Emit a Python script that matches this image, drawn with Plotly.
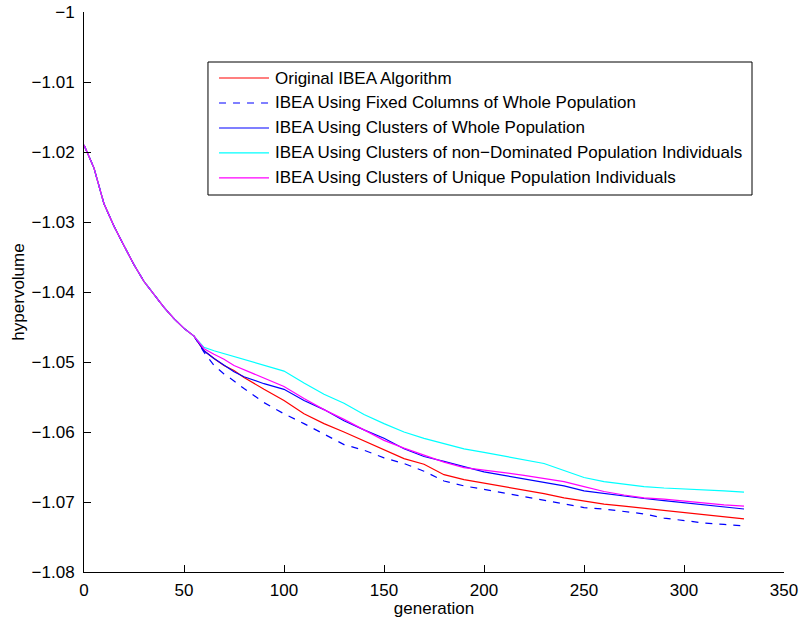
import plotly.graph_objects as go

# Generations at which the hypervolume was sampled
gen_common = [0, 5, 10, 15, 20, 25, 30, 35, 40, 45, 50, 55]
gen_tail = [60, 65, 70, 75, 80, 90, 100, 110, 120, 130, 140, 150, 160, 170, 180,
            190, 200, 210, 220, 230, 240, 250, 260, 270, 280, 290, 300, 310, 320, 330]

# All variants share the same early trajectory
hv_common = [-1.0190, -1.0223, -1.0274, -1.0306, -1.0334, -1.0361, -1.0385,
             -1.0404, -1.0422, -1.0438, -1.0452, -1.0463]

hv_original = [-1.0484, -1.0495, -1.0505, -1.0512, -1.0522, -1.0539, -1.0555, -1.0574,
               -1.0588, -1.0600, -1.0613, -1.0625, -1.0638, -1.0646, -1.0661, -1.0668,
               -1.0673, -1.0677, -1.0683, -1.0688, -1.0694, -1.0699, -1.0703, -1.0706,
               -1.0709, -1.0712, -1.0714, -1.0717, -1.0721, -1.0724]
hv_fixed_cols = [-1.0486, -1.0505, -1.0517, -1.0527, -1.0538, -1.0558, -1.0574, -1.0588,
                 -1.0603, -1.0618, -1.0626, -1.0637, -1.0645, -1.0656, -1.0670, -1.0677,
                 -1.0682, -1.0687, -1.0692, -1.0697, -1.0703, -1.0708, -1.0710, -1.0713,
                 -1.0717, -1.0723, -1.0727, -1.0730, -1.0732, -1.0734]
hv_clusters_whole = [-1.0484, -1.0495, -1.0504, -1.0514, -1.0521, -1.0531, -1.0539, -1.0555,
                     -1.0568, -1.0584, -1.0597, -1.0609, -1.0624, -1.0635, -1.0642, -1.0650,
                     -1.0657, -1.0662, -1.0667, -1.0672, -1.0677, -1.0684, -1.0688, -1.0692,
                     -1.0695, -1.0698, -1.0701, -1.0704, -1.0707, -1.0710]
hv_clusters_nondom = [-1.0479, -1.0484, -1.0488, -1.0493, -1.0497, -1.0505, -1.0513, -1.0530,
                      -1.0546, -1.0559, -1.0575, -1.0588, -1.0600, -1.0609, -1.0617, -1.0624,
                      -1.0629, -1.0634, -1.0640, -1.0645, -1.0655, -1.0665, -1.0671, -1.0675,
                      -1.0678, -1.0680, -1.0681, -1.0682, -1.0684, -1.0686]
hv_clusters_unique = [-1.0481, -1.0489, -1.0496, -1.0505, -1.0511, -1.0523, -1.0535, -1.0552,
                      -1.0568, -1.0582, -1.0597, -1.0612, -1.0623, -1.0633, -1.0643, -1.0651,
                      -1.0654, -1.0658, -1.0662, -1.0666, -1.0671, -1.0678, -1.0685, -1.0690,
                      -1.0694, -1.0696, -1.0699, -1.0701, -1.0704, -1.0706]

series_names = [
    "Original IBEA Algorithm",
    "IBEA Using Fixed Columns of Whole Population",
    "IBEA Using Clusters of Whole Population",
    "IBEA Using Clusters of non\u2212Dominated Population Individuals",
    "IBEA Using Clusters of Unique Population Individuals",
]
series_values = [hv_original, hv_fixed_cols, hv_clusters_whole,
                 hv_clusters_nondom, hv_clusters_unique]
series_colors = ["#ff0000", "#0000ff", "#0000ff", "#00ffff", "#ff00ff"]
series_dash = ["solid", "7px,7px", "solid", "solid", "solid"]

x_ticks = [0, 50, 100, 150, 200, 250, 300, 350]
y_ticks = [-1.08, -1.07, -1.06, -1.05, -1.04, -1.03, -1.02, -1.01, -1.0]
y_tick_labels = ["\u22121.08", "\u22121.07", "\u22121.06", "\u22121.05", "\u22121.04",
                 "\u22121.03", "\u22121.02", "\u22121.01", "\u22121"]

FONT = "Liberation Sans, Arial, Helvetica, sans-serif"
FS = 17

fig = go.Figure()
for name, vals, col, dash in zip(series_names, series_values, series_colors, series_dash):
    fig.add_trace(go.Scatter(
        x=gen_common + gen_tail,
        y=hv_common + vals,
        mode="lines",
        name=name,
        line=dict(color=col, width=1.2, dash=dash),
        showlegend=False,
    ))

# Boxed legend in the upper right of the axes
box_x0, box_x1 = 0.1771, 0.9543
box_y0, box_y1 = 0.6732, 0.9107
row_top, row_step = 0.8821, 0.0446
sample_x0, sample_x1, text_x = 0.1929, 0.2643, 0.2700

shapes = [dict(type="rect", xref="paper", yref="paper",
               x0=box_x0, x1=box_x1, y0=box_y0, y1=box_y1,
               line=dict(color="black", width=1), fillcolor="white", layer="above")]
annotations = []
for i, (name, col, dash) in enumerate(zip(series_names, series_colors, series_dash)):
    yy = row_top - i * row_step
    shapes.append(dict(type="line", xref="paper", yref="paper",
                       x0=sample_x0, x1=sample_x1, y0=yy, y1=yy,
                       line=dict(color=col, width=1.2, dash=dash), layer="above"))
    annotations.append(dict(xref="paper", yref="paper", x=text_x, y=yy,
                            text=name, showarrow=False, xanchor="left", yanchor="middle",
                            font=dict(family=FONT, size=FS, color="black")))

fig.update_layout(
    width=808, height=618,
    margin=dict(l=84, r=24, t=12, b=46),
    paper_bgcolor="white", plot_bgcolor="white",
    font=dict(family=FONT, size=FS, color="black"),
    shapes=shapes,
    annotations=annotations,
)
fig.update_xaxes(
    range=[0, 350], tickmode="array", tickvals=x_ticks,
    ticks="inside", ticklen=7, tickcolor="black", tickwidth=1,
    showline=True, linecolor="black", linewidth=1, mirror=False,
    showgrid=False, zeroline=False, automargin=False,
    title=dict(text="generation", standoff=2, font=dict(size=FS)),
    ticklabelstandoff=3,
)
fig.update_yaxes(
    range=[-1.08, -1.0], tickmode="array", tickvals=y_ticks, ticktext=y_tick_labels,
    ticks="inside", ticklen=7, tickcolor="black", tickwidth=1,
    showline=True, linecolor="black", linewidth=1, mirror=False,
    showgrid=False, zeroline=False, automargin=False,
    title=dict(text="hypervolume", standoff=2, font=dict(size=FS)),
    ticklabelstandoff=5,
)

fig.write_html("out.html")
